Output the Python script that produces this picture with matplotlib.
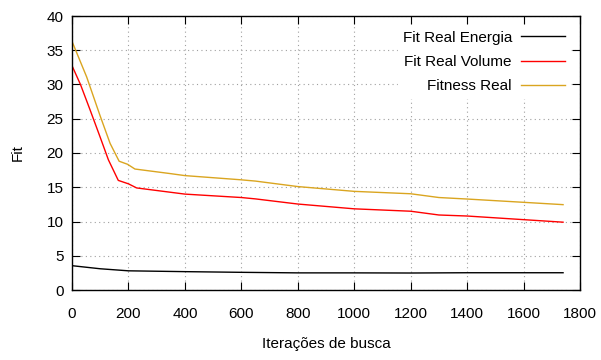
import matplotlib
matplotlib.use("Agg")
import matplotlib.pyplot as plt

plt.rcParams["font.family"] = ["Liberation Sans", "DejaVu Sans"]

# values
iter_energia = [0, 100, 200, 400, 600, 800, 1000, 1200, 1400, 1600, 1740]
fit_energia = [3.55, 3.1, 2.8, 2.68, 2.58, 2.5, 2.5, 2.48, 2.52, 2.52, 2.52]

iter_volume = [0, 30, 64, 99, 129, 164, 200, 229, 400, 600, 650, 800, 1000, 1200, 1300, 1400, 1600, 1740]
fit_volume = [32.75, 30.0, 26.3, 22.4, 19.0, 16.0, 15.5, 14.9, 14.0, 13.5, 13.3, 12.55, 11.85, 11.5, 10.95, 10.8, 10.27, 9.9]

iter_fitness = [0, 52, 99, 135, 167, 197, 223, 347, 400, 595, 650, 800, 1000, 1200, 1300, 1400, 1600, 1740]
fit_fitness = [36.3, 31.1, 25.5, 21.4, 18.8, 18.35, 17.66, 17.0, 16.7, 16.1, 15.9, 15.1, 14.4, 14.05, 13.5, 13.28, 12.8, 12.46]

fs = 11

fig = plt.figure(figsize=(6.01, 3.6), dpi=100)
ax = fig.add_axes([72 / 601, 70 / 360, 508 / 601, 274 / 360])

ax.plot(iter_energia, fit_energia, color="black", lw=1, label="Fit Real Energia")
ax.plot(iter_volume, fit_volume, color="#ff0000", lw=1, label="Fit Real Volume")
ax.plot(iter_fitness, fit_fitness, color="#daa520", lw=1, label="Fitness Real")

ax.set_xlim(0, 1800)
ax.set_ylim(0, 40)
ax.set_xticks(range(0, 1801, 200))
ax.set_yticks(range(0, 41, 5))
ax.grid(True, color="#a0a0a0", linestyle=(0, (1, 3)), lw=0.8)
ax.tick_params(direction="in", length=6, top=True, right=True, labelsize=fs, pad=6)
ax.tick_params(axis="x", pad=12)
for s in ax.spines.values():
    s.set_linewidth(1)

ax.set_xlabel("Iterações de busca", fontsize=fs, labelpad=12)
ax.set_ylabel("Fit", fontsize=fs, labelpad=16)

leg = ax.legend(loc="upper right", bbox_to_anchor=(570 / 601, (360 - 26) / 360),
                bbox_transform=fig.transFigure,
                frameon=True, fontsize=fs, markerfirst=False,
                handlelength=2.9, handletextpad=0.6, labelspacing=0.68,
                borderaxespad=0, borderpad=0.3,
                edgecolor="white", fancybox=False)
leg.get_frame().set_alpha(1)
for t in leg.get_texts():
    t.set_ha("right")

fig.savefig("out.png", dpi=100)
